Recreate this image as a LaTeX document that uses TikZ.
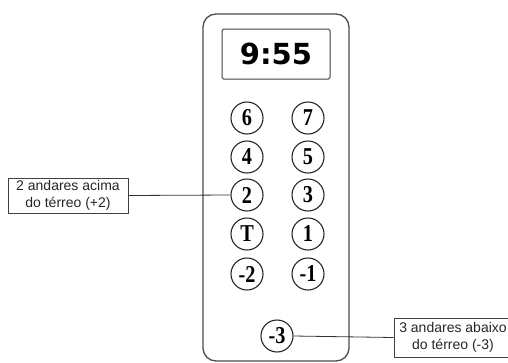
\documentclass[tikz,border=0pt]{standalone}
\usepackage{fontspec}
\newfontfamily\labelfont{Liberation Sans}
\newfontfamily\digitfont{Liberation Serif}
\newfontfamily\clockfont{DejaVu Sans}
\newcommand{\dg}[1]{\scalebox{0.92}[1.1]{#1}}
\begin{document}
\begin{tikzpicture}[x=1pt,y=-1pt,
  btn/.style={circle,draw=black!85,line width=1.1pt,minimum size=32pt,inner sep=0pt,
    font=\digitfont\bfseries\fontsize{22}{22}\selectfont},
  callout/.style={rectangle,draw=black!75,line width=0.8pt,align=center,inner sep=0pt,
    font=\labelfont\fontsize{14}{17.5}\selectfont,text=black!85},
  lead/.style={draw=black!80,line width=0.8pt}]
\useasboundingbox (0,0) rectangle (508,362);
\clip (0,0) rectangle (508,362);
% panel
\draw[black!70,line width=1.3pt,rounded corners=13pt] (203,14) rectangle (349,361);
% display
\node[draw=black!75,line width=1pt,rounded corners=1.5pt,minimum width=108pt,minimum height=50pt,inner sep=0pt,
  font=\clockfont\bfseries\fontsize{29}{29}\selectfont] (disp) at (276,54) {9:55};
% buttons
\node[btn] (b6) at (247,118) {\dg{6}};
\node[btn] (b7) at (308,118) {\dg{7}};
\node[btn] (b4) at (247,157) {\dg{4}};
\node[btn] (b5) at (308,157) {\dg{5}};
\node[btn] (b2) at (247,195) {\dg{2}};
\node[btn] (b3) at (308,195) {\dg{3}};
\node[btn] (bT) at (247,234) {\dg{T}};
\node[btn] (b1) at (308,234) {\dg{1}};
\node[btn] (bm2) at (247,274) {\dg{-2}};
\node[btn] (bm1) at (308,274) {\dg{-1}};
\node[btn] (bm3) at (277,336) {\dg{-3}};
% callouts
\node[callout,minimum width=120pt,minimum height=35pt] (lab2) at (68,195.5) {2 andares acima\\do térreo (+2)};
\node[callout,minimum width=118pt,minimum height=39pt] (lab3) at (453,337.5) {3 andares abaixo\\do térreo (-3)};
\draw[lead] (lab2.east) -- (b2.west);
\draw[lead] (bm3.east) -- (lab3.west);
\end{tikzpicture}
\end{document}
